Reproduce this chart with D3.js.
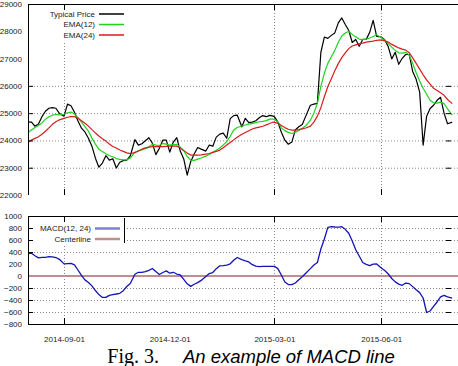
<!DOCTYPE html>
<html>
<head>
    <title>MACD line</title>
    <meta charset="utf-8">
    <style>
        body { margin: 0; background: #fff; }
        svg { display: block; }
        .tick text, .legend text { font-family: 'Liberation Sans', Arial, sans-serif; font-size: 8px; fill: #222; }
    </style>
</head>
<body>
<div class="chart-container"></div>
<script src="https://d3js.org/d3.v7.min.js"></script>
<script>
    // sample dates (every 3 days or so)
    var dates = [
        '2014-08-01','2014-08-04','2014-08-07','2014-08-10','2014-08-13','2014-08-16','2014-08-19','2014-08-22','2014-08-25','2014-08-28',
        '2014-09-01','2014-09-04','2014-09-07','2014-09-10','2014-09-13','2014-09-16','2014-09-19','2014-09-22','2014-09-25','2014-09-28',
        '2014-10-01','2014-10-04','2014-10-07','2014-10-10','2014-10-13','2014-10-16','2014-10-19','2014-10-22','2014-10-25','2014-10-28',
        '2014-11-01','2014-11-04','2014-11-07','2014-11-10','2014-11-13','2014-11-16','2014-11-19','2014-11-22','2014-11-25','2014-11-28',
        '2014-12-01','2014-12-04','2014-12-07','2014-12-10','2014-12-13','2014-12-16','2014-12-19','2014-12-22','2014-12-25','2014-12-28',
        '2015-01-01','2015-01-04','2015-01-07','2015-01-10','2015-01-13','2015-01-16','2015-01-19','2015-01-22','2015-01-25','2015-01-28',
        '2015-02-01','2015-02-04','2015-02-07','2015-02-10','2015-02-13','2015-02-16','2015-02-19','2015-02-22','2015-02-25','2015-02-28',
        '2015-03-01','2015-03-04','2015-03-07','2015-03-10','2015-03-13','2015-03-16','2015-03-19','2015-03-22','2015-03-25','2015-03-28',
        '2015-04-01','2015-04-04','2015-04-07','2015-04-10','2015-04-13','2015-04-16','2015-04-19','2015-04-22','2015-04-25','2015-04-28',
        '2015-05-01','2015-05-04','2015-05-07','2015-05-10','2015-05-13','2015-05-16','2015-05-19','2015-05-22','2015-05-25','2015-05-28',
        '2015-06-01','2015-06-04','2015-06-07','2015-06-10','2015-06-13','2015-06-16','2015-06-19','2015-06-22','2015-06-25','2015-06-28',
        '2015-07-01','2015-07-04','2015-07-07','2015-07-10','2015-07-13','2015-07-16','2015-07-19','2015-07-22','2015-07-25','2015-07-28',
        '2015-08-01'
    ];

    var typicalPrice = [
        24680, 24670, 24520, 24600, 24870, 25070, 25180, 25200, 25180, 24990,
        24890, 25330, 25270, 25030, 24710, 24450, 24310, 24080, 23790, 23350,
        23020, 23170, 23440, 23280, 23330, 22990, 23200, 23260, 23280, 23430,
        24030, 23830, 23880, 23990, 24100, 23900, 23480, 23710, 24010, 24010,
        23570, 23940, 24100, 23610, 23320, 22730, 23220, 23500, 23740, 23680,
        23610, 23830, 23790, 24120, 24230, 24270, 24080, 24800, 24910, 24930,
        24500, 24810, 24650, 24670, 24720, 24830, 24910, 24870, 24920, 24890,
        24870, 24670, 24300, 24010, 23860, 23940, 24380, 24500, 24580, 24890,
        25290, 25330, 25360, 27230, 27790, 27740, 27850, 27940, 28310, 28490,
        28250, 28030, 27590, 27700, 27450, 27700, 27700, 27960, 28400, 27810,
        27790, 27680, 27430, 26990, 27230, 26790, 27010, 27150, 27150, 26530,
        26240, 25770, 23830, 24890, 25170, 25290, 25470, 25580, 25000, 24610,
        24670
    ];

    var ema12 = [
        24290, 24380, 24470, 24550, 24640, 24780, 24870, 24925, 24950, 24935,
        24960, 25015, 25040, 24970, 24835, 24670, 24505, 24340, 24085, 23865,
        23680, 23590, 23510, 23440, 23400, 23335, 23305, 23290, 23290, 23355,
        23570, 23620, 23655, 23695, 23755, 23865, 23830, 23815, 23885, 23865,
        23830, 23845, 23855, 23755, 23620, 23410, 23280, 23270, 23315, 23355,
        23425, 23485, 23570, 23640, 23720, 23830, 23955, 24155, 24385, 24475,
        24530, 24565, 24595, 24625, 24655, 24685, 24700, 24725, 24780, 24785,
        24760, 24685, 24460, 24360, 24295, 24255, 24295, 24365, 24450, 24535,
        24740, 25000, 25365, 25985, 26460, 26825, 27065, 27300, 27595, 27830,
        27940, 28000, 27885, 27795, 27715, 27695, 27710, 27755, 27810, 27875,
        27760, 27675, 27550, 27420, 27300, 27210, 27200, 27230, 27125, 26825,
        26480, 26175, 25910, 25690, 25475, 25380, 25370, 25405, 25350, 25160,
        24925
    ];

    var ema24 = [
        23945, 24010, 24075, 24135, 24225, 24335, 24460, 24590, 24685, 24755,
        24810, 24850, 24875, 24870, 24815, 24725, 24630, 24525, 24395, 24275,
        24165, 24065, 23975, 23870, 23780, 23720, 23650, 23600, 23545, 23515,
        23550, 23615, 23680, 23725, 23755, 23775, 23775, 23770, 23770, 23780,
        23790, 23790, 23790, 23720, 23635, 23535, 23465, 23465, 23465, 23470,
        23500, 23520, 23560, 23600, 23645, 23735, 23830, 23925, 24020, 24115,
        24225, 24290, 24355, 24420, 24460, 24490, 24520, 24570, 24620, 24675,
        24660, 24625, 24545, 24470, 24410, 24375, 24375, 24395, 24425, 24455,
        24525, 24670, 24890, 25200, 25600, 25975, 26260, 26550, 26815, 27035,
        27205, 27365, 27460, 27500, 27540, 27565, 27600, 27620, 27640, 27670,
        27685, 27650, 27605, 27520, 27455, 27390, 27345, 27310, 27215, 27025,
        26825, 26615, 26405, 26220, 26060, 25910, 25830, 25745, 25655, 25500,
        25350
    ];

    var macd = [
        378, 378, 338, 303, 312, 312, 323, 320, 308, 278,
        202, 207, 212, 187, 100, 12, -65, -107, -165, -242,
        -310, -357, -357, -323, -310, -300, -288, -245, -175, -125,
        30, 62, 62, 72, 95, 125, 75, 25, 58, 85,
        47, 62, 33, 17, -57, -130, -173, -138, -110, -73,
        -8, 40, 58, 122, 170, 172, 182, 203, 262, 308,
        273, 253, 235, 188, 163, 157, 162, 162, 162, 162,
        162, 123, 17, -100, -143, -145, -117, -63, -13, 47,
        123, 183, 225, 450, 617, 810, 823, 817, 813, 822,
        778, 712, 583, 437, 333, 225, 193, 173, 197, 200,
        133, 92, 33, -42, -98, -135, -155, -117, -127, -177,
        -230, -277, -367, -608, -583, -505, -433, -347, -323, -348,
        -367
    ];

    // axis ticks and grid
    var xTickDates = ['2014-09-01', '2014-12-01', '2015-03-01', '2015-06-01'];
    var xGridDates = ['2014-09-01', '2015-03-01', '2015-06-01'];
    var topTicks = [22000, 23000, 24000, 25000, 26000, 27000, 28000, 29000];
    var topGrid = [23000, 24000, 25000, 26000];
    var bottomTicks = [-800, -600, -400, -200, 0, 200, 400, 600, 800, 1000];
    var bottomGrid = [-600, -400, -200, 400, 600, 800];

    var topSeries = [
        {name: 'Typical Price', values: typicalPrice, color: '#000000'},
        {name: 'EMA(12)', values: ema12, color: '#1ed21e'},
        {name: 'EMA(24)', values: ema24, color: '#d81c1c'}
    ];

    var parseDate = d3.timeParse('%Y-%m-%d');
    var left = 28, right = 458;
    var gridColor = '#8a8a8a';

    var x = d3.scaleTime()
            .domain([parseDate('2014-08-01'), parseDate('2015-08-06')])
            .range([left, right]);

    var yTop = d3.scaleLinear().domain([22000, 29000]).range([195, 4]);
    var yBot = d3.scaleLinear().domain([-800, 1000]).range([324, 216]);

    var svg = d3.select('.chart-container').append('svg')
            .attr('width', 458)
            .attr('height', 366);

    function rows(values) {
        return dates.map(function (d, i) { return {date: parseDate(d), v: values[i]}; });
    }

    function drawGrid(g, y, gridVals, top, bottom) {
        g.selectAll('line.hgrid').data(gridVals).enter().append('line')
                .attr('class', 'hgrid')
                .attr('x1', left).attr('x2', right)
                .attr('y1', function (d) { return y(d) + 0.5; })
                .attr('y2', function (d) { return y(d) + 0.5; })
                .style('stroke', gridColor)
                .style('stroke-dasharray', '1,2');

        g.selectAll('line.vgrid').data(xGridDates).enter().append('line')
                .attr('class', 'vgrid')
                .attr('x1', function (d) { return Math.round(x(parseDate(d))) + 0.5; })
                .attr('x2', function (d) { return Math.round(x(parseDate(d))) + 0.5; })
                .attr('y1', top).attr('y2', bottom)
                .style('stroke', gridColor)
                .style('stroke-dasharray', '1,2');
    }

    function drawFrame(g, y, gridVals, top, bottom, withBottomLine) {
        var frame = g.append('g').style('stroke', '#000').style('stroke-width', 1);

        frame.append('line').attr('x1', left + 0.5).attr('x2', left + 0.5).attr('y1', top).attr('y2', bottom);
        frame.append('line').attr('x1', left).attr('x2', right).attr('y1', top + 0.5).attr('y2', top + 0.5);
        if (withBottomLine) {
            frame.append('line').attr('x1', left).attr('x2', right).attr('y1', bottom + 0.5).attr('y2', bottom + 0.5);
        }

        // inward ticks, left and mirrored at the right
        gridVals.forEach(function (v) {
            var yy = y(v) + 0.5;
            frame.append('line').attr('x1', left).attr('x2', left + 5).attr('y1', yy).attr('y2', yy);
            frame.append('line').attr('x1', 446).attr('x2', 451).attr('y1', yy).attr('y2', yy);
        });
        xGridDates.forEach(function (d) {
            var xx = Math.round(x(parseDate(d))) + 0.5;
            frame.append('line').attr('x1', xx).attr('x2', xx).attr('y1', top).attr('y2', top + 6);
            frame.append('line').attr('x1', xx).attr('x2', xx).attr('y1', bottom - 6).attr('y2', bottom);
        });
    }

    function drawLegend(g, items, box, textX, rowY, rowStep) {
        g.append('rect')
                .attr('x', box[0]).attr('y', box[1])
                .attr('width', box[2]).attr('height', box[3])
                .style('fill', '#fff');

        var legend = g.append('g').attr('class', 'legend');
        items.forEach(function (item, i) {
            var yy = rowY + i * rowStep;
            legend.append('text')
                    .attr('x', textX).attr('y', yy)
                    .attr('dy', '0.32em')
                    .attr('text-anchor', 'end')
                    .text(item.name);
            legend.append('line')
                    .attr('x1', textX + 4).attr('x2', textX + 29)
                    .attr('y1', yy).attr('y2', yy)
                    .style('stroke', item.legendColor || item.color)
                    .style('stroke-width', item.legendWidth || 1.5);
        });
    }

    // ---------- top panel ----------
    var gTop = svg.append('g').attr('class', 'price-panel');
    drawGrid(gTop, yTop, topGrid, 4, 195);

    var priceLine = d3.line()
            .curve(d3.curveLinear)
            .x(function (d) { return x(d.date); })
            .y(function (d) { return yTop(d.v); });

    topSeries.forEach(function (s) {
        gTop.append('path')
                .attr('d', priceLine(rows(s.values)))
                .style('fill', 'none')
                .style('stroke', s.color)
                .style('stroke-width', 1.2)
                .style('stroke-linejoin', 'round');
    });

    drawLegend(gTop, topSeries, [29, 6, 99, 35], 95, 14, 10.5);
    drawFrame(gTop, yTop, topGrid, 4, 195, false);

    gTop.append('g')
            .attr('transform', 'translate(' + left + ',0)')
            .call(d3.axisLeft(yTop).tickValues(topTicks).tickSize(0).tickPadding(6).tickFormat(d3.format('d')))
            .call(function (g) { g.select('.domain').remove(); });

    // ---------- bottom panel ----------
    var gBot = svg.append('g').attr('class', 'macd-panel');
    drawGrid(gBot, yBot, bottomGrid, 216, 324);

    gBot.append('line')
            .attr('x1', left).attr('x2', right)
            .attr('y1', yBot(0)).attr('y2', yBot(0))
            .style('stroke', '#bd8f8f')
            .style('stroke-width', 2);

    var macdLine = d3.line()
            .curve(d3.curveLinear)
            .x(function (d) { return x(d.date); })
            .y(function (d) { return yBot(d.v); });

    gBot.append('path')
            .attr('d', macdLine(rows(macd)))
            .style('fill', 'none')
            .style('stroke', '#1414b4')
            .style('stroke-width', 1.3)
            .style('stroke-linejoin', 'round');

    drawLegend(gBot, [
        {name: 'MACD(12, 24)', color: '#1414b4', legendColor: '#7e7edc', legendWidth: 2.5},
        {name: 'Centerline', color: '#bd8f8f', legendWidth: 2.5}
    ], [29, 217, 95, 27], 91, 228.5, 10.5);

    gBot.append('line')
            .attr('x1', 124.5).attr('x2', 124.5)
            .attr('y1', 218).attr('y2', 243)
            .style('stroke', '#000');

    drawFrame(gBot, yBot, bottomGrid, 216, 324, true);

    gBot.append('g')
            .attr('transform', 'translate(' + left + ',0)')
            .call(d3.axisLeft(yBot).tickValues(bottomTicks).tickSize(0).tickPadding(6).tickFormat(d3.format('d')))
            .call(function (g) { g.select('.domain').remove(); });

    gBot.append('g')
            .attr('transform', 'translate(0,324)')
            .call(d3.axisBottom(x)
                    .tickValues(xTickDates.map(parseDate))
                    .tickSize(0)
                    .tickPadding(12)
                    .tickFormat(d3.timeFormat('%Y-%m-%d')))
            .call(function (g) { g.select('.domain').remove(); });

    // ---------- caption ----------
    svg.append('text')
            .attr('x', 159).attr('y', 363)
            .attr('text-anchor', 'end')
            .style('font-family', "'Liberation Serif', 'Times New Roman', serif")
            .style('font-size', '20px')
            .text('Fig. 3.');

    svg.append('text')
            .attr('x', 183).attr('y', 363)
            .style('font-family', "'Liberation Sans', Arial, sans-serif")
            .style('font-style', 'italic')
            .style('font-size', '18.5px')
            .text('An example of MACD line');
</script>
</body>
</html>
